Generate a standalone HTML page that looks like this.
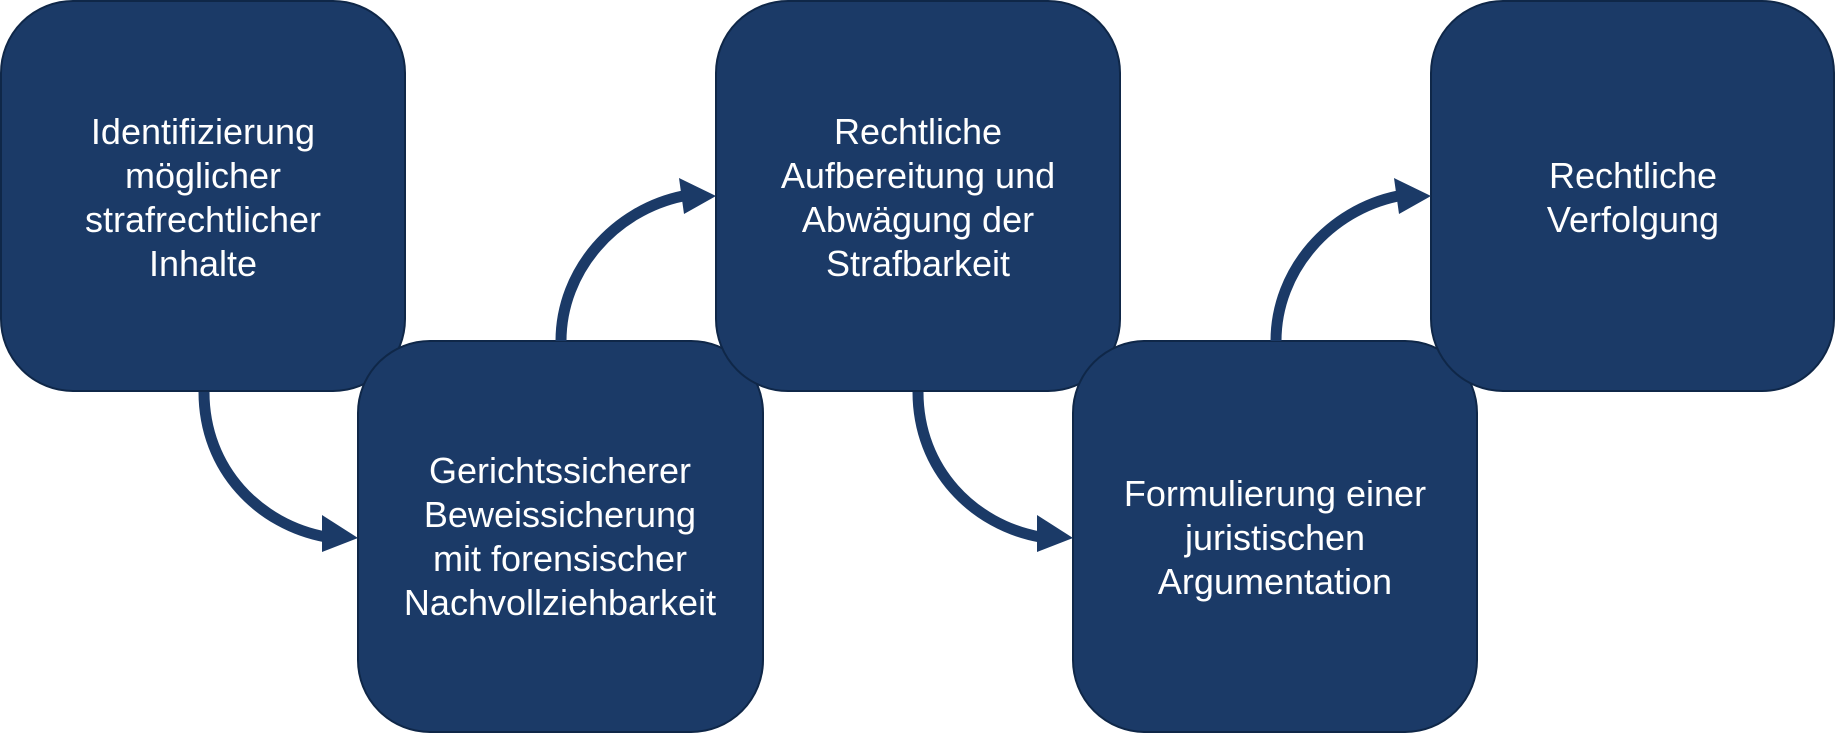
<!DOCTYPE html>
<html><head><meta charset="utf-8"><style>
html,body{margin:0;padding:0;background:#fff;}
svg{display:block}
text{font-family:"Liberation Sans",sans-serif;font-size:36px;fill:#fff;text-anchor:middle;}
</style></head><body>
<svg width="1835" height="733" viewBox="0 0 1835 733" xmlns="http://www.w3.org/2000/svg">
<g fill="#1b3a67" stroke="#0f2748" stroke-width="2">
<rect x="1" y="1" width="404" height="390" rx="72"/>
<rect x="358" y="341" width="405" height="391" rx="72"/>
<rect x="716" y="1" width="404" height="390" rx="72"/>
<rect x="1073" y="341" width="404" height="391" rx="72"/>
<rect x="1431" y="1" width="403" height="390" rx="72"/>
</g>
<g fill="none" stroke="#1b3a67" stroke-width="11">
<path d="M204,392 C204,470 260,525 326,537"/>
<path d="M561,341 C561,270 615,210 683,196"/>
<path d="M918,392 C918,470 974,525 1040,537"/>
<path d="M1276,341 C1276,270 1330,210 1398,196"/>
</g>
<g fill="#1b3a67">
<polygon points="358,538 322,515 322,552"/>
<polygon points="716,196 679,178 684,214"/>
<polygon points="1073,538 1037,515 1037,552"/>
<polygon points="1431,196 1394,178 1399,214"/>
</g>
<text x="203" y="144">Identifizierung</text>
<text x="203" y="188">möglicher</text>
<text x="203" y="232">strafrechtlicher</text>
<text x="203" y="276">Inhalte</text>
<text x="560" y="483">Gerichtssicherer</text>
<text x="560" y="527">Beweissicherung</text>
<text x="560" y="571">mit forensischer</text>
<text x="560" y="615">Nachvollziehbarkeit</text>
<text x="918" y="144">Rechtliche</text>
<text x="918" y="188">Aufbereitung und</text>
<text x="918" y="232">Abwägung der</text>
<text x="918" y="276">Strafbarkeit</text>
<text x="1275" y="506">Formulierung einer</text>
<text x="1275" y="550">juristischen</text>
<text x="1275" y="594">Argumentation</text>
<text x="1633" y="188">Rechtliche</text>
<text x="1633" y="232">Verfolgung</text>
</svg>
</body></html>
